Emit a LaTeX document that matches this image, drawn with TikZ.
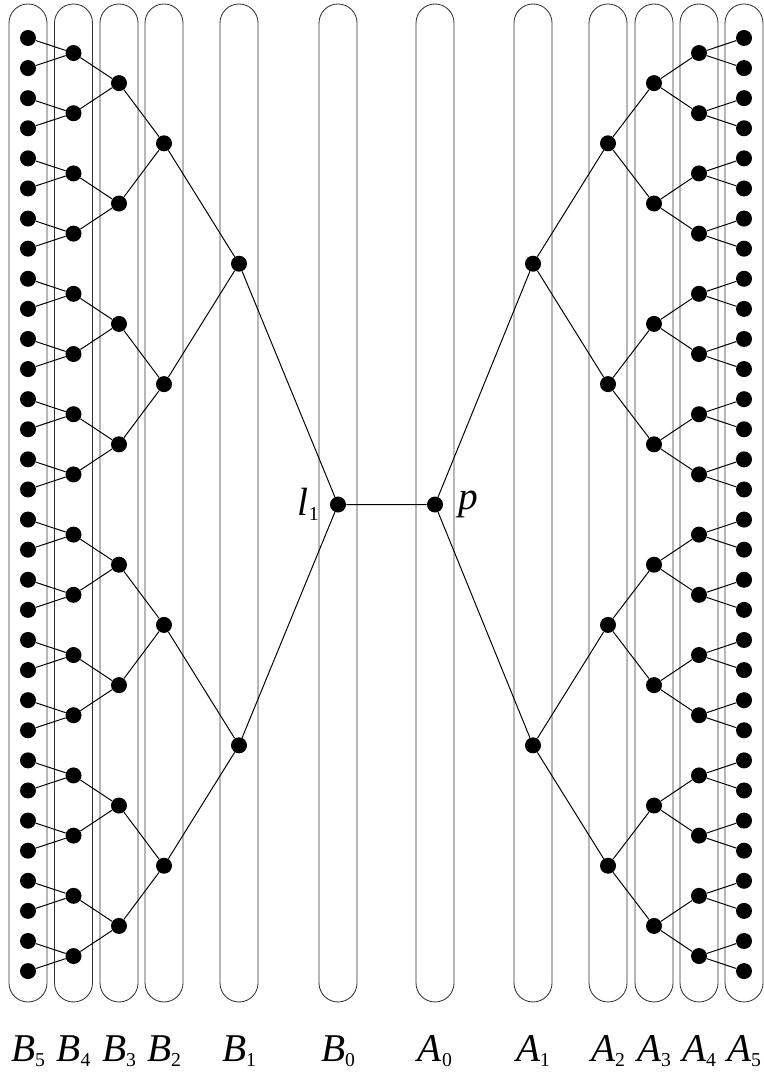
\documentclass[tikz,border=0pt]{standalone}
\usepackage{fontspec}
\setmainfont{Liberation Serif}
\newcommand{\lowsub}[1]{\raisebox{-0.25ex}{\fontsize{14}{16}\selectfont #1}}

\begin{document}
\begin{tikzpicture}[dot/.style={circle,fill=black,inner sep=0pt,minimum size=0.4cm},
pill/.style={draw=black!80,line width=0.6pt,rounded corners=0.475cm},
lab/.style={font=\fontsize{28}{32}\selectfont},
edge/.style={line width=0.7pt}]
\useasboundingbox (0,0) rectangle (19.075,26.8);
\foreach \x/\c/\d in {0.7/B/5,1.8375/B/4,2.975/B/3,4.1/B/2,5.975/B/1,8.45/B/0,10.875/A/0,13.325/A/1,15.2/A/2,16.35/A/3,17.475/A/4,18.6/A/5}{
\draw[pill] (\x-0.475,1.75) rectangle (\x+0.475,26.7);
\node[lab,anchor=base] (lab\c\d) at (\x,0.25) {\textit{\c}\lowsub{\d}};
}
\foreach \lev/\x/\s in {5/0.7/1,4/1.8375/2,3/2.975/4,2/4.1/8,1/5.975/16}{
\pgfmathtruncatemacro{\n}{32/\s-1}
\foreach \i in {0,...,\n}{
\node[dot] (b\lev-\i) at (\x,{25.85-0.7525*(\i*\s+(\s-1)/2)}) {};
}
}
\foreach \lev/\x/\s in {5/18.6/1,4/17.475/2,3/16.35/4,2/15.2/8,1/13.325/16}{
\pgfmathtruncatemacro{\n}{32/\s-1}
\foreach \i in {0,...,\n}{
\node[dot] (a\lev-\i) at (\x,{25.85-0.7525*(\i*\s+(\s-1)/2)}) {};
}
}
\node[dot,label={[lab,label distance=0.15cm]west:{\textit{l}\lowsub{1}}}] (l) at (8.45,{25.85-0.7525*15.5}) {};
\node[dot,label={[lab,label distance=0.25cm]east:{\textit{p}}}] (p) at (10.875,{25.85-0.7525*15.5}) {};
\foreach \lev/\chl in {4/5,3/4,2/3,1/2}{
\pgfmathtruncatemacro{\n}{2^\lev-1}
\foreach \i in {0,...,\n}{
\pgfmathtruncatemacro{\j}{2*\i}
\pgfmathtruncatemacro{\k}{2*\i+1}
\draw[edge] (b\lev-\i) -- (b\chl-\j) (b\lev-\i) -- (b\chl-\k);
\draw[edge] (a\lev-\i) -- (a\chl-\j) (a\lev-\i) -- (a\chl-\k);
}
}
\draw[edge] (l) -- (b1-0) (l) -- (b1-1) (l) -- (p) (p) -- (a1-0) (p) -- (a1-1);
\end{tikzpicture}
\end{document}
